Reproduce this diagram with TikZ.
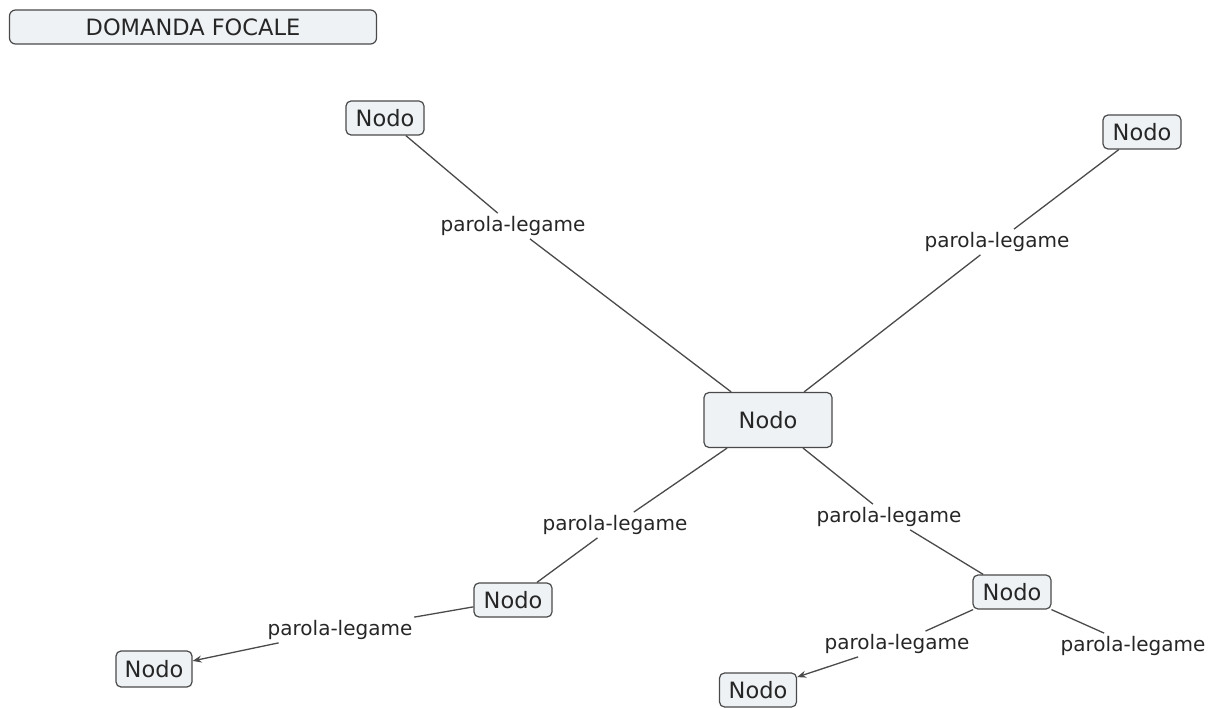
\documentclass[tikz,border=0pt]{standalone}
\usepackage{fontspec}
\setmainfont{DejaVu Sans}
\usetikzlibrary{arrows.meta}
\definecolor{nodefill}{HTML}{EEF2F5}
\definecolor{edgecol}{HTML}{4A4A4A}
\begin{document}
\begin{tikzpicture}[x=1pt,y=-1pt,
  cnode/.style={draw=edgecol,line width=1.2pt,fill=nodefill,rounded corners=5pt,
    font=\fontsize{22.5}{26}\selectfont,text=black!85,minimum width=78pt,minimum height=34pt,inner sep=0pt},
  lab/.style={font=\fontsize{20}{24}\selectfont,text=black!85,inner sep=3pt},
  link/.style={draw=edgecol,line width=1.3pt},
  arr/.style={link,-{Stealth[length=9pt,width=7pt]}}]
\useasboundingbox (0,0) rectangle (1219,708);
\node[cnode,minimum width=367pt,minimum height=34pt,rounded corners=6pt] (fq) at (193,27) {DOMANDA FOCALE};
\node[cnode] (tl) at (385,118) {Nodo};
\node[cnode] (tr) at (1142,132) {Nodo};
\node[cnode,minimum width=128pt,minimum height=55pt] (c) at (768,420) {Nodo};
\node[cnode] (ml) at (513,600) {Nodo};
\node[cnode] (mr) at (1012,592) {Nodo};
\node[cnode,minimum width=76pt,minimum height=36pt] (bl) at (154,669) {Nodo};
\node[cnode,minimum width=77pt,minimum height=34pt] (bm) at (758,690) {Nodo};
\node[lab] (l1) at (513,226) {parola-legame};
\node[lab] (l2) at (997,242) {parola-legame};
\node[lab] (l3) at (615,525) {parola-legame};
\node[lab] (l4) at (889,517) {parola-legame};
\node[lab] (l5) at (340,630) {parola-legame};
\node[lab] (l6) at (897,644) {parola-legame};
\node[lab] (l7) at (1133,646) {parola-legame};
\draw[link] (tl) -- (l1);
\draw[link] (l1) -- (c);
\draw[link] (tr) -- (l2);
\draw[link] (l2) -- (c);
\draw[link] (c) -- (l3);
\draw[link] (l3) -- (ml);
\draw[link] (c) -- (l4);
\draw[link] (l4) -- (mr);
\draw[link] (ml) -- (l5);
\draw[arr] (l5) -- (bl);
\draw[link] (mr) -- (l6);
\draw[arr] (l6) -- (bm);
\draw[link] (mr) -- (l7);
\end{tikzpicture}
\end{document}
